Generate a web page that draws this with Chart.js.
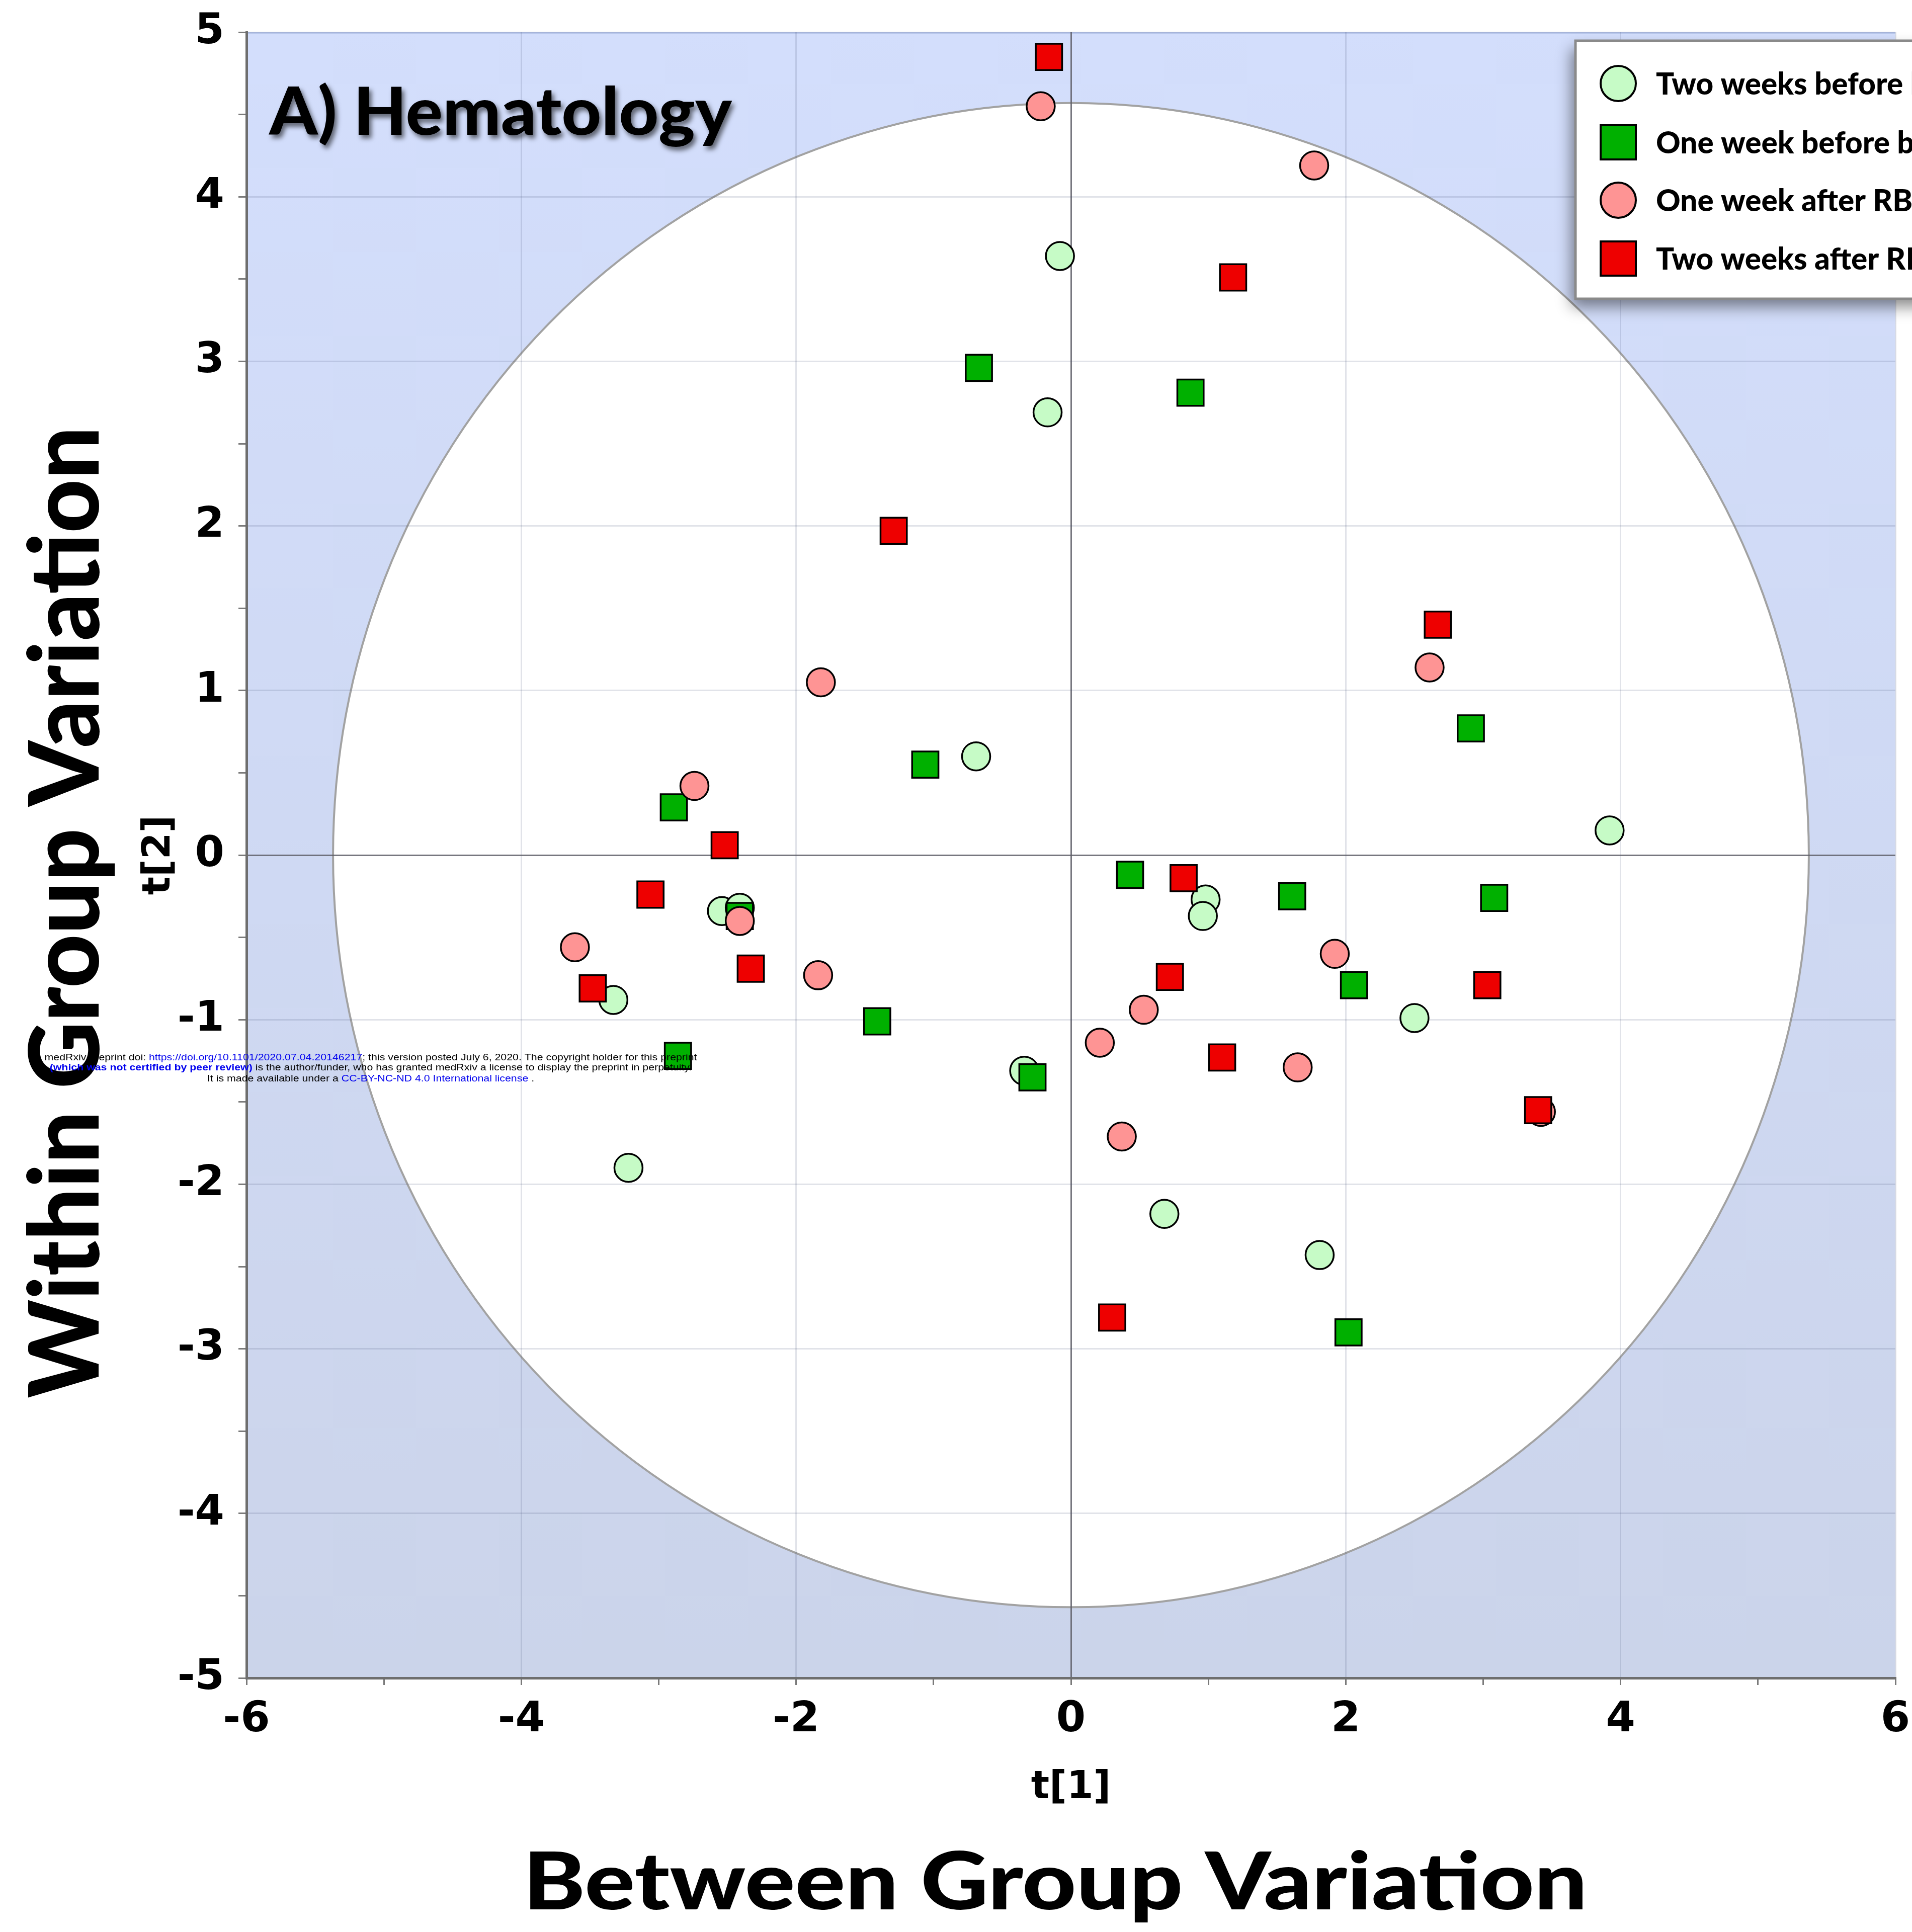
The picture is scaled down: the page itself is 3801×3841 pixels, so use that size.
<!DOCTYPE html>
<html>
<head>
<meta charset="utf-8">
<script src="https://cdn.jsdelivr.net/npm/chart.js@4.4.1/dist/chart.umd.min.js"></script>
<style>
  html, body { margin: 0; padding: 0; background: #fff; }
  canvas { display: block; }
</style>
</head>
<body>
<canvas id="myChart" width="3801" height="3841" style="width:3801px;height:3841px"></canvas>
<script>
// scores t[1] / t[2] per sampling time
const twoWeeksBeforeX = [-0.08, -0.17, -0.69, 3.92, -2.54, -2.41, 0.98, 0.96, -3.33, 2.50, -0.34, -3.22, 0.68, 1.81];
const twoWeeksBeforeY = [3.64, 2.69, 0.60, 0.15, -0.34, -0.32, -0.27, -0.37, -0.88, -0.99, -1.31, -1.90, -2.18, -2.43];

const oneWeekBeforeX = [-0.67, 0.87, 2.91, -1.06, -2.89, 0.43, -2.41, 1.61, 3.08, 2.06, -1.41, -2.86, -0.28, 2.02];
const oneWeekBeforeY = [2.96, 2.81, 0.77, 0.55, 0.29, -0.12, -0.37, -0.25, -0.26, -0.79, -1.01, -1.22, -1.35, -2.90];

const oneWeekAfterX = [-0.22, 1.77, -1.82, 2.61, -2.74, -2.41, -3.61, -1.84, 1.92, 0.53, 0.21, 1.65, 0.37, 3.42];
const oneWeekAfterY = [4.55, 4.19, 1.05, 1.14, 0.42, -0.40, -0.56, -0.73, -0.60, -0.94, -1.14, -1.29, -1.71, -1.56];

const twoWeeksAfterX = [-0.16, 1.18, -1.29, 2.67, -2.52, -3.06, 0.82, 0.72, -2.33, -3.48, 3.03, 1.10, 3.40, 0.30];
const twoWeeksAfterY = [4.85, 3.51, 1.97, 1.40, 0.06, -0.24, -0.14, -0.74, -0.69, -0.81, -0.79, -1.23, -1.55, -2.81];

const groupLabels = [
  'Two weeks before blood withdrawal',
  'One week before blood withdrawal',
  'One week after RBC reinfusion',
  'Two weeks after RBC reinfusion'
];

// Hotelling T2 ellipse (95%) half-axes in score units
const t2Rx = 5.37;
const t2Ry = 4.57;

const xTicks = [-6, -4, -2, 0, 2, 4, 6];
const yTicks = [-5, -4, -3, -2, -1, 0, 1, 2, 3, 4, 5];

function toPoints(xs, ys) {
  return xs.map((v, i) => ({ x: v, y: ys[i] }));
}

const ctx = document.getElementById('myChart').getContext('2d');

const BOLD_SANS = 'Lato';

function stretchedText(c, text, o) {
  c.save();
  c.font = '900 100px ' + BOLD_SANS;
  const m = c.measureText(text);
  const inkW = m.actualBoundingBoxLeft + m.actualBoundingBoxRight;
  const cap = c.measureText('H').actualBoundingBoxAscent;
  c.translate(o.x, o.y);
  c.rotate(o.rot || 0);
  c.scale(o.width / inkW, o.cap / cap);
  c.textBaseline = 'alphabetic';
  c.textAlign = 'left';
  if (o.shadow) {
    c.shadowColor = 'rgba(0,0,0,0.55)';
    c.shadowBlur = 10;
    c.shadowOffsetX = 5;
    c.shadowOffsetY = 7;
  }
  c.fillStyle = '#000';
  c.fillText(text, -inkW / 2 + m.actualBoundingBoxLeft, 0);
  c.restore();
}

// keep the plot box where the layout padding puts it
function noScalePadding(s) {
  s.paddingTop = 0;
  s.paddingBottom = 0;
  s.paddingLeft = 0;
  s.paddingRight = 0;
}

const backgroundPlugin = {
  id: 'scoreBackground',
  beforeDraw(chart) {
    const { ctx: c, chartArea: a, scales: { x, y } } = chart;
    c.save();
    const g = c.createLinearGradient(0, a.top, 0, a.bottom);
    g.addColorStop(0, '#d3defc');
    g.addColorStop(1, '#cbd4ea');
    c.fillStyle = g;
    c.fillRect(a.left, a.top, a.right - a.left, a.bottom - a.top);
    const cx = x.getPixelForValue(0);
    const cy = y.getPixelForValue(0);
    const rx = x.getPixelForValue(t2Rx) - cx;
    const ry = cy - y.getPixelForValue(t2Ry);
    c.beginPath();
    c.ellipse(cx, cy, rx, ry, 0, 0, Math.PI * 2);
    c.fillStyle = '#ffffff';
    c.fill();
    c.strokeStyle = '#a2a2a2';
    c.lineWidth = 4;
    c.stroke();
    // thin blue rim along the top of the plot
    c.fillStyle = '#b9c8ec';
    c.fillRect(a.left, a.top, a.right - a.left, 4);
    c.restore();
  }
};

const decorPlugin = {
  id: 'decor',
  afterDraw(chart) {
    const c = chart.ctx;

    // panel title
    stretchedText(c, 'A) Hematology', { x: 995, y: 268, width: 922, cap: 96, shadow: true });

    // big axis captions
    stretchedText(c, 'Between Group Variation', { x: 2100, y: 3796, width: 2094, cap: 115 });
    stretchedText(c, 'Within Group Variation', { x: 196, y: 1818, width: 1923, cap: 140, rot: -Math.PI / 2 });

    // legend box (runs past the right edge)
    c.save();
    c.shadowColor = 'rgba(0,0,0,0.45)';
    c.shadowBlur = 28;
    c.shadowOffsetX = -8;
    c.shadowOffsetY = 16;
    c.fillStyle = '#fff';
    c.fillRect(3132, 81, 800, 513);
    c.restore();
    c.save();
    c.strokeStyle = '#8a8a8a';
    c.lineWidth = 5;
    c.strokeRect(3132, 81, 800, 513);

    const rows = [166, 283, 398, 514];
    const ds = chart.data.datasets;
    c.font = '900 100px ' + BOLD_SANS;
    const m0 = c.measureText('Two weeks before');
    const capH = c.measureText('H').actualBoundingBoxAscent;
    const sy = 44 / capH;
    const sx = 489 / (m0.actualBoundingBoxLeft + m0.actualBoundingBoxRight);
    rows.forEach((ry, i) => {
      const d = ds[i];
      c.fillStyle = d.backgroundColor;
      c.strokeStyle = '#000';
      c.lineWidth = 4;
      c.beginPath();
      if (d.pointStyle === 'circle') {
        c.arc(3217, ry, 35, 0, Math.PI * 2);
      } else {
        c.rect(3182, ry - 34, 70, 68);
      }
      c.fill();
      c.stroke();
      c.save();
      c.translate(3292, ry + 22);
      c.scale(sx, sy);
      c.fillStyle = '#000';
      c.textBaseline = 'alphabetic';
      c.fillText(groupLabels[i], 0, 0);
      c.restore();
    });
    c.restore();

    // preprint watermark
    const lines = [
      [['medRxiv preprint doi: ', '#000', ''], ['https://doi.org/10.1101/2020.07.04.20146217', '#0000ee', ''], ['; this version posted July 6, 2020. The copyright holder for this preprint', '#000', '']],
      [['(which was not certified by peer review)', '#0000ee', 'bold '], [' is the author/funder, who has granted medRxiv a license to display the preprint in perpetuity.', '#000', '']],
      [['It is made available under a ', '#000', ''], ['CC-BY-NC-ND 4.0 International license', '#0000ee', ''], [' .', '#000', '']]
    ];
    const lineY = [2103, 2123, 2145];
    c.save();
    c.textBaseline = 'middle';
    const fsz = 18;
    const widthOf = (segs) => segs.reduce((s, seg) => {
      c.font = seg[2] + fsz + 'px "Liberation Sans"';
      return s + c.measureText(seg[0]).width;
    }, 0);
    const k = 1297 / widthOf(lines[0]);
    lines.forEach((segs, li) => {
      const w = widthOf(segs) * k;
      let px = 737 - w / 2;
      segs.forEach(seg => {
        c.font = seg[2] + fsz + 'px "Liberation Sans"';
        c.fillStyle = seg[1];
        c.save();
        c.translate(px, lineY[li]);
        c.scale(k, 1);
        c.fillText(seg[0], 0, 0);
        c.restore();
        px += c.measureText(seg[0]).width * k;
      });
    });
    c.restore();
  }
};

const tickFont = { family: 'DejaVu Sans', weight: 'bold', size: 84 };
const titleFont = { family: 'DejaVu Sans', weight: 'bold', size: 76 };

const data = {
  datasets: [
    {
      label: groupLabels[0],
      data: toPoints(twoWeeksBeforeX, twoWeeksBeforeY),
      pointStyle: 'circle',
      backgroundColor: '#c6fbc6',
      borderColor: '#000',
      pointRadius: 28,
      pointBorderWidth: 3.5,
      order: 4
    },
    {
      label: groupLabels[1],
      data: toPoints(oneWeekBeforeX, oneWeekBeforeY),
      pointStyle: 'rect',
      backgroundColor: '#00b000',
      borderColor: '#000',
      pointRadius: 37,
      pointBorderWidth: 3.5,
      order: 3
    },
    {
      label: groupLabels[2],
      data: toPoints(oneWeekAfterX, oneWeekAfterY),
      pointStyle: 'circle',
      backgroundColor: '#fe9494',
      borderColor: '#000',
      pointRadius: 28,
      pointBorderWidth: 3.5,
      order: 2
    },
    {
      label: groupLabels[3],
      data: toPoints(twoWeeksAfterX, twoWeeksAfterY),
      pointStyle: 'rect',
      backgroundColor: '#ee0000',
      borderColor: '#000',
      pointRadius: 37,
      pointBorderWidth: 3.5,
      order: 1
    }
  ]
};

function gridColor(c, evenOnly) {
  const v = c.tick.value;
  if (Math.abs(v) < 1e-9) return 'rgba(95,95,105,0.85)';
  if (!Number.isInteger(v)) return 'rgba(0,0,0,0)';
  if (evenOnly && v % 2 !== 0) return 'rgba(0,0,0,0)';
  return 'rgba(70,80,120,0.16)';
}

const config = {
  type: 'scatter',
  data: data,
  options: {
    responsive: false,
    devicePixelRatio: 1,
    animation: false,
    events: [],
    layout: {
      autoPadding: false,
      padding: { left: 0, top: 64, right: 33, bottom: 0 }
    },
    scales: {
      x: {
        type: 'linear',
        min: -6,
        max: 6,
        afterFit: (s) => { s.height = 505; noScalePadding(s); },
        afterBuildTicks: (s) => {
          s.ticks = [];
          for (let v = -6; v <= 6; v += 1) s.ticks.push({ value: v });
        },
        border: { display: true, color: '#6e6e6e', width: 5 },
        grid: {
          color: (c) => gridColor(c, true),
          lineWidth: 3,
          tickColor: '#7a7a7a',
          tickLength: 14,
          tickWidth: 3
        },
        ticks: {
          color: '#000',
          font: tickFont,
          padding: 20,
          maxRotation: 0,
          autoSkip: false,
          callback: (v) => xTicks.includes(v) ? String(v) : ''
        },
        title: {
          display: true,
          text: 't[1]',
          color: '#000',
          font: titleFont,
          padding: { top: 0, bottom: 240 }
        }
      },
      y: {
        type: 'linear',
        min: -5,
        max: 5,
        afterFit: (s) => { s.width = 490; noScalePadding(s); },
        afterBuildTicks: (s) => {
          s.ticks = [];
          for (let v = -5; v <= 5; v += 0.5) s.ticks.push({ value: v });
        },
        border: { display: true, color: '#6e6e6e', width: 5 },
        grid: {
          color: (c) => gridColor(c, false),
          lineWidth: 3,
          tickColor: '#7a7a7a',
          tickLength: 16,
          tickWidth: 3
        },
        ticks: {
          color: '#000',
          font: tickFont,
          padding: 28,
          autoSkip: false,
          callback: (v) => yTicks.includes(v) ? String(v) : ''
        },
        title: {
          display: true,
          text: 't[2]',
          color: '#000',
          font: titleFont,
          padding: { top: 272, bottom: 0 }
        }
      }
    },
    plugins: {
      legend: { display: false },
      tooltip: { enabled: false }
    }
  },
  plugins: [backgroundPlugin, decorPlugin]
};

const myChart = new Chart(ctx, config);
</script>
</body>
</html>
